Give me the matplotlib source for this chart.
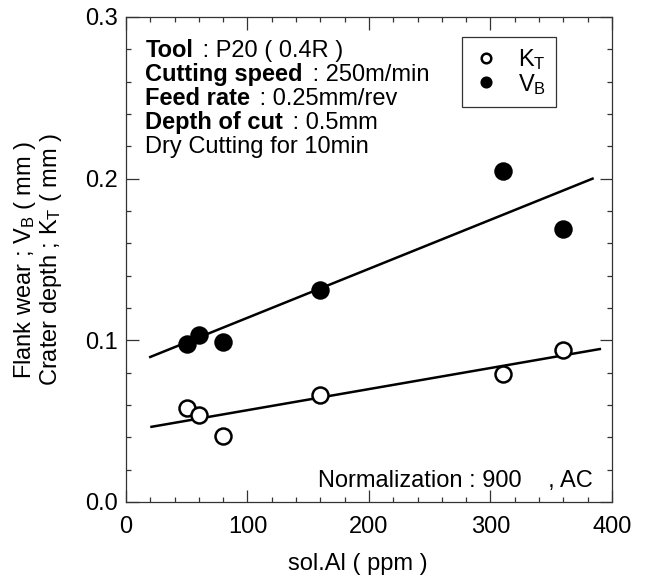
import numpy as np
import matplotlib.pyplot as plt
from matplotlib.ticker import MultipleLocator

plt.rcParams.update({
    "font.family": "Liberation Sans",
    "mathtext.fontset": "custom",
    "mathtext.rm": "Liberation Sans",
    "mathtext.it": "Liberation Sans:italic",
    "mathtext.bf": "Liberation Sans:bold",
    "font.size": 17,
    "axes.linewidth": 0.9,
    "xtick.direction": "in",
    "ytick.direction": "in",
    "xtick.top": True,
    "ytick.right": True,
})

# sol.Al content (ppm)
sol_al = [50, 60, 80, 160, 310, 360]
# flank wear VB (mm)
vb = [0.098, 0.103, 0.099, 0.131, 0.205, 0.169]
# crater depth KT (mm)
kt = [0.058, 0.054, 0.041, 0.066, 0.079, 0.094]

# trend lines (end points)
vb_fit_x = [20, 384]
vb_fit_y = [0.0897, 0.200]
kt_fit_x = [21, 390]
kt_fit_y = [0.0465, 0.0946]

info_lines = [
    ("Tool", " : P20 ( 0.4R )"),
    ("Cutting speed", " : 250m/min"),
    ("Feed rate", " : 0.25mm/rev"),
    ("Depth of cut", " : 0.5mm"),
    ("", "Dry Cutting for 10min"),
]

fig = plt.figure(figsize=(6.45, 5.76), dpi=100)
ax = fig.add_axes([0.1953, 0.1285, 0.7535, 0.842])

ax.plot(vb_fit_x, vb_fit_y, color="black", lw=1.8, zorder=2)
ax.plot(kt_fit_x, kt_fit_y, color="black", lw=1.8, zorder=2)

ax.plot(sol_al, kt, "o", ms=11.5, mfc="white", mec="black", mew=1.8,
        label=r"K$_\mathrm{T}$", zorder=3)
ax.plot(sol_al, vb, "o", ms=11.5, mfc="black", mec="black", mew=1.8,
        label=r"V$_\mathrm{B}$", zorder=3)

ax.set_xlim(0, 400)
ax.set_ylim(0, 0.3)
ax.xaxis.set_major_locator(MultipleLocator(100))
ax.xaxis.set_minor_locator(MultipleLocator(20))
ax.yaxis.set_major_locator(MultipleLocator(0.1))
ax.yaxis.set_minor_locator(MultipleLocator(0.02))
ax.yaxis.set_major_formatter(plt.FuncFormatter(lambda v, p: f"{v:.1f}"))
ax.tick_params(which="major", length=9, width=0.9, color="#333333")
ax.tick_params(which="minor", length=3.5, width=0.9, color="#333333")
ax.tick_params(axis="x", pad=10)
ax.tick_params(axis="y", pad=6)
for s in ax.spines.values():
    s.set_color("#333333")

ax.set_xlabel("sol.Al ( ppm )")
ax.xaxis.set_label_coords(0.478, -0.105)
ax.set_ylabel("Flank wear ; V$_\\mathrm{B}$ ( mm )\nCrater depth ; K$_\\mathrm{T}$ ( mm )",
              linespacing=1.0)
ax.yaxis.set_label_coords(-0.128, 0.5)

leg = ax.legend(loc="upper left", bbox_to_anchor=(0.691, 0.959), borderaxespad=0,
                frameon=True, fancybox=False, edgecolor="black", markerscale=0.6,
                handlelength=1.2, handletextpad=0.75, borderpad=0.42,
                labelspacing=0.0, fontsize=17)
leg.get_frame().set_linewidth(0.9)

y0 = 0.917
dy = 0.0495
for i, (bold, rest) in enumerate(info_lines):
    y = y0 - i * dy
    if bold:
        t = ax.text(0.04, y, bold, transform=ax.transAxes, fontweight="bold",
                    va="baseline", ha="left")
        ax.annotate(rest, xy=(1, 0), xycoords=t, va="bottom", ha="left",
                    xytext=(2, 0), textcoords="offset points")
    else:
        ax.text(0.04, y, rest, transform=ax.transAxes, va="baseline", ha="left")

ax.text(0.96, 0.03, "Normalization : 900    , AC", transform=ax.transAxes,
        ha="right", va="baseline")

fig.savefig("out.png", dpi=100)
